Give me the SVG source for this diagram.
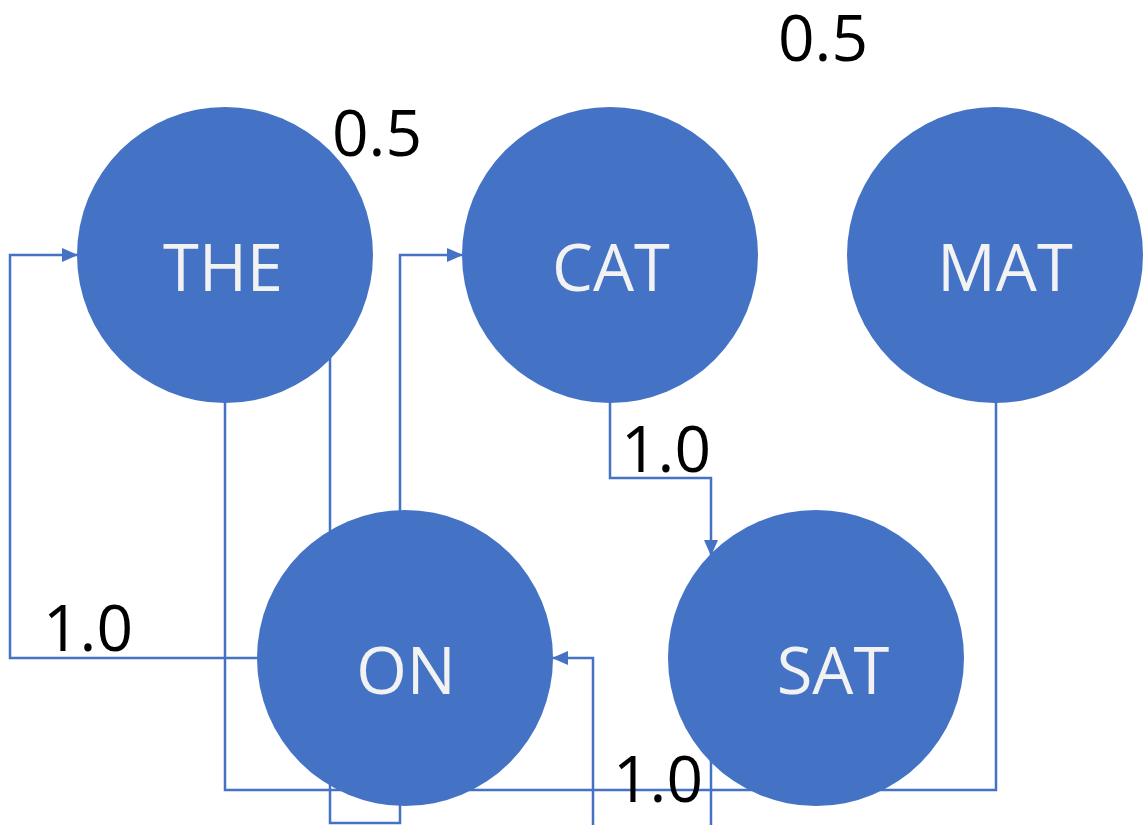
<svg xmlns="http://www.w3.org/2000/svg" width="1145" height="825" viewBox="0 0 1145 825">
<style>
.node circle{fill:#4472C4;}
.node text{fill:#F2F2F2;font-family:"Open Sans","Noto Sans",sans-serif;font-size:65px;text-anchor:middle;}
.edge{fill:none;stroke:#4472C4;stroke-width:2.5;}
.lbl{fill:#000;font-family:"Open Sans","Noto Sans",sans-serif;font-size:64px;}
</style>
<defs>
<marker id="arr" markerWidth="16" markerHeight="14" refX="15" refY="7" orient="auto" markerUnits="userSpaceOnUse">
<path d="M0,0 L16,7 L0,14 Z" fill="#4472C4"/>
</marker>
</defs>
<rect width="1145" height="825" fill="#fff"/>
<g id="connectors">
<path class="edge" d="M257,658 H10 V255 H77" marker-end="url(#arr)"/>
<path class="edge" d="M400,515 V255 H462" marker-end="url(#arr)"/>
<path class="edge" d="M610,399 V478 H711 V555" marker-end="url(#arr)"/>
<path class="edge" d="M996,399 V790 H225 V399"/>
<path class="edge" d="M330,355 V823 H400 V800"/>
<path class="edge" d="M593,825 V658 H553" marker-end="url(#arr)"/>
<path class="edge" d="M711,825 V755"/>
</g>
<g id="node-the" class="node"><circle cx="225" cy="255" r="148"/><text x="223" y="291">THE</text></g>
<g id="node-cat" class="node"><circle cx="610" cy="255" r="148"/><text x="611" y="291">CAT</text></g>
<g id="node-mat" class="node"><circle cx="995" cy="255" r="148"/><text x="1005" y="291">MAT</text></g>
<g id="node-on" class="node"><circle cx="405" cy="658" r="148"/><text x="406" y="694">ON</text></g>
<g id="node-sat" class="node"><circle cx="816" cy="658" r="148"/><text x="833" y="694">SAT</text></g>
<g id="labels">
<text class="lbl" x="823" y="61" text-anchor="middle">0.5</text>
<text class="lbl" x="377" y="156" text-anchor="middle" font-size="56">0.5</text>
<text class="lbl" x="666" y="472" text-anchor="middle">1.0</text>
<text class="lbl" x="88" y="651" text-anchor="middle">1.0</text>
<text class="lbl" x="658" y="802" text-anchor="middle">1.0</text>
</g>
</svg>
